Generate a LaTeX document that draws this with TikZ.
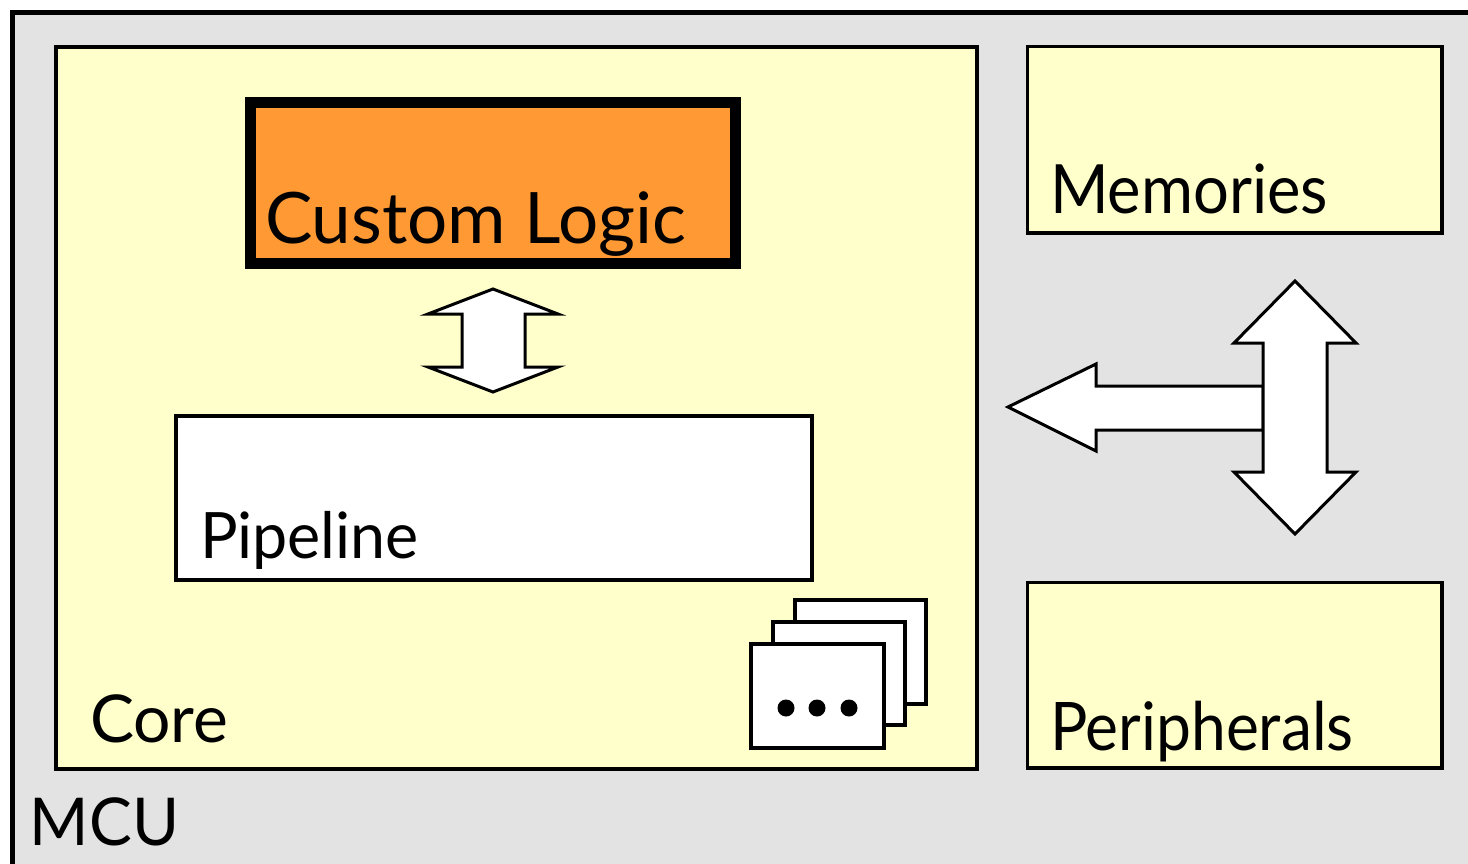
\documentclass[tikz,border=0pt]{standalone}
\usepackage{fontspec}
\setmainfont{Lato}
\definecolor{mcugrey}{HTML}{E3E3E3}
\definecolor{paleyellow}{HTML}{FFFFCC}
\definecolor{logicorange}{HTML}{FF9933}
\newcommand{\lblsize}[1]{\fontsize{#1}{#1}\selectfont}
\newcommand{\narrow}[2]{\scalebox{#1}[1]{#2}}
\begin{document}
\begin{tikzpicture}[x=1pt,y=-1pt,
  block/.style={draw=black, rectangle, inner sep=0pt, outer sep=0pt, anchor=north west},
  unit/.style={block, fill=paleyellow, line width=3.5pt},
  lbl/.style={anchor=base west, inner sep=0pt, outer sep=0pt, text=black},
  fatarrow/.style={draw=black, fill=white, line width=3pt, line join=miter},
  card/.style={block, fill=white, line width=4pt}
]
\useasboundingbox (0,0) rectangle (1468,864);
\fill[white] (0,0) rectangle (1468,864);

% MCU frame, running off the right and bottom edges
\begin{scope}
  \clip (0,0) rectangle (1468,864);
  \node[block, fill=mcugrey, line width=4.5pt, minimum width=1500pt, minimum height=900pt] (mcu) at (12.5,12.5) {};
\end{scope}

% Core and its contents
\node[unit, line width=4pt, minimum width=921pt, minimum height=722pt] (core) at (56,47) {};
\node[block, fill=logicorange, line width=11pt, minimum width=485pt, minimum height=160.5pt] (logic) at (250.5,103) {};
\node[block, fill=white, line width=4pt, minimum width=636.5pt, minimum height=164pt] (pipe) at (175.5,416) {};

% stacked cards
\node[card, minimum width=131pt, minimum height=104pt] (cardc) at (795,600) {};
\node[card, minimum width=132pt, minimum height=103pt] (cardb) at (773,622) {};
\node[card, minimum width=133pt, minimum height=104pt] (carda) at (751,644) {};
\foreach \dx in {786,817,849} \fill (\dx,708) circle (8.5pt);

% Memories and Peripherals
\node[unit, minimum width=414.5pt, minimum height=186.5pt] (mem) at (1027.5,46.5) {};
\node[unit, minimum width=414.5pt, minimum height=185.5pt] (peri) at (1027.5,582.5) {};

% arrow between Custom Logic and Pipeline
\draw[fatarrow] (493,289) -- (558,314) -- (525,314) -- (525,367) -- (558,367) -- (493,392)
  -- (428,367) -- (462,367) -- (462,314) -- (428,314) -- cycle;

% bus arrows between core, memories and peripherals
\coordinate (hub) at (1295,407);
\draw[fatarrow] (1263,386) -- (1096,386) -- (1096,364) -- (1008,407) -- (1096,451) -- (1096,430) -- (1263,430) -- cycle;
\draw[fatarrow] (1295,281) -- (1356,343) -- (1327,343) -- (1327,472) -- (1356,472) -- (1295,534)
  -- (1234,472) -- (1263,472) -- (1263,343) -- (1234,343) -- cycle;

% labels
\node[lbl, font=\lblsize{71}] (tlogic) at (265,243) {Custom Logic};
\node[lbl, font=\lblsize{64}] (tpipe) at (200,558) {\narrow{0.98}{Pipeline}};
\node[lbl, font=\lblsize{66}] (tcore) at (90,742) {Core};
\node[lbl, font=\lblsize{66}] (tmcu) at (30,845) {\narrow{0.97}{MCU}};
\node[lbl, font=\lblsize{68}] (tmem) at (1050,214) {\narrow{0.93}{Memories}};
\node[lbl, font=\lblsize{67}] (tperi) at (1050,750) {\narrow{0.93}{Peripherals}};
\end{tikzpicture}
\end{document}
